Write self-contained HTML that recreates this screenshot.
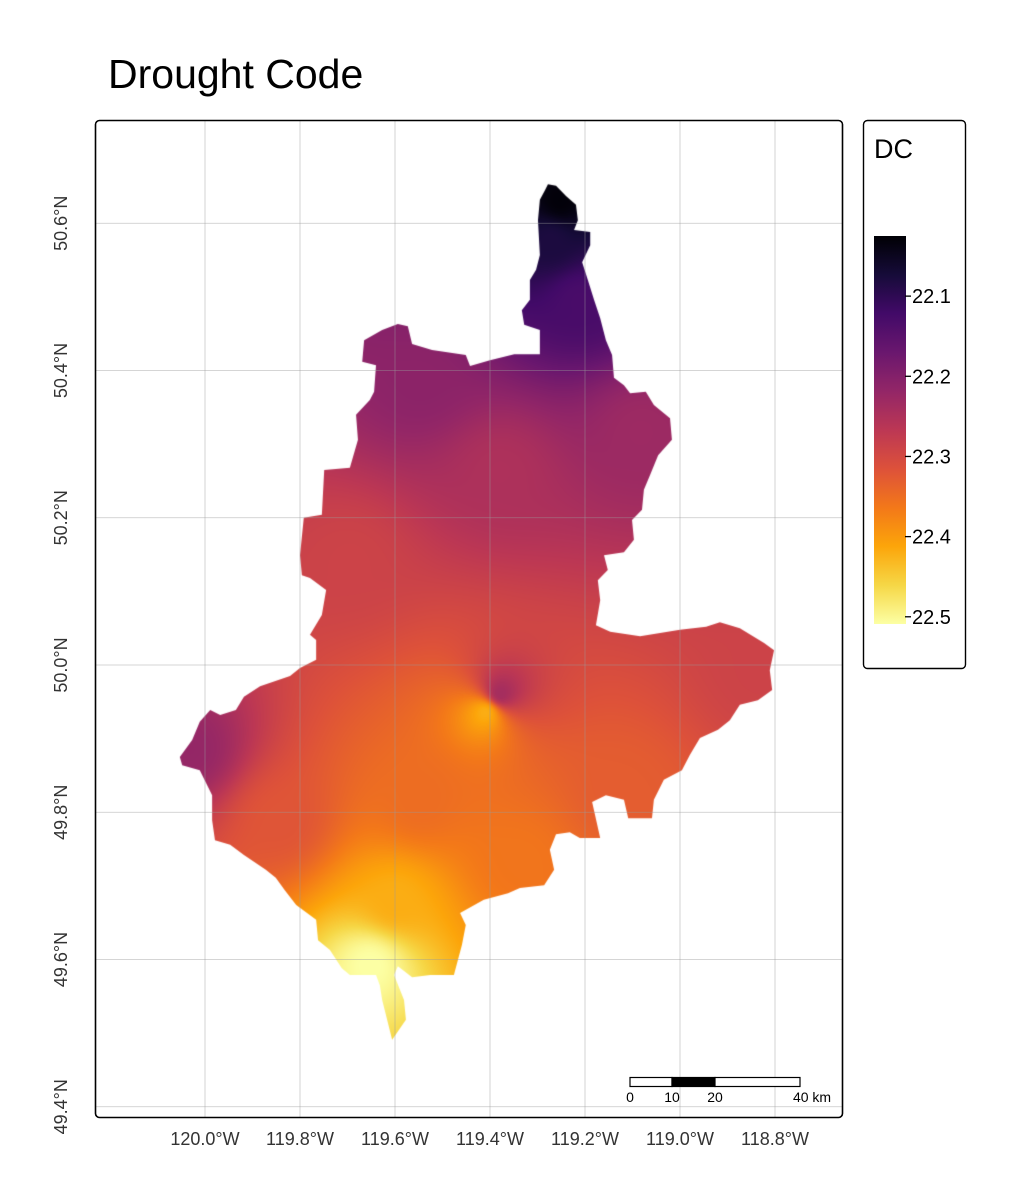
<!DOCTYPE html>
<html><head><meta charset="utf-8">
<style>
html,body{margin:0;padding:0;background:#fff;}
body{width:1030px;height:1192px;position:relative;overflow:hidden;font-family:"Liberation Sans",Arial,sans-serif;}
#map{position:absolute;left:0;top:0;}
svg{position:absolute;left:0;top:0;}
</style></head>
<body>
<svg width="1030" height="1192">
  <text x="108" y="88" font-size="41" fill="#000">Drought Code</text>
  <g id="xticks"></g>
  <g id="yticks"></g>
</svg>
<canvas id="map" width="1030" height="1192"></canvas>
<svg width="1030" height="1192">
  <g id="grid"></g>
  <rect x="95.5" y="120.5" width="747" height="997" rx="4" fill="none" stroke="#000" stroke-width="1.6"/>
  <g>
    <rect x="630" y="1077.5" width="42" height="9" fill="#fff" stroke="#000" stroke-width="1.2"/>
    <rect x="672" y="1077.5" width="43" height="9" fill="#000" stroke="#000" stroke-width="1.2"/>
    <rect x="715" y="1077.5" width="85" height="9" fill="#fff" stroke="#000" stroke-width="1.2"/>
    <g font-size="14" fill="#000" text-anchor="middle">
      <text x="630" y="1102">0</text><text x="672" y="1102">10</text><text x="715" y="1102">20</text>
      <text x="812" y="1102">40 km</text>
    </g>
  </g>
  <g>
    <rect x="863.5" y="120.5" width="102" height="548" rx="4" fill="#fff" stroke="#000" stroke-width="1.4"/>
    <text x="874" y="158" font-size="27" fill="#000">DC</text>
    <defs><linearGradient id="cb" x1="0" y1="0" x2="0" y2="1"></linearGradient></defs>
    <rect x="874" y="236" width="32" height="388" fill="url(#cb)"/>
    <g id="cbticks"></g>
  </g>
</svg>
<script>
const lonTicks = [-120.0,-119.8,-119.6,-119.4,-119.2,-119.0,-118.8];
const latTicks = [49.4,49.6,49.8,50.0,50.2,50.4,50.6];
const legendTicks = [22.1,22.2,22.3,22.4,22.5];
const boundaryLon = [-119.278,-119.261,-119.240,-119.219,-119.215,-119.223,-119.189,-119.189,-119.206,-119.194,-119.181,-119.168,-119.156,-119.143,-119.139,-119.118,-119.105,-119.072,-119.055,-119.021,-119.017,-119.046,-119.063,-119.076,-119.080,-119.101,-119.097,-119.118,-119.160,-119.152,-119.173,-119.168,-119.177,-119.147,-119.084,-119.000,-118.945,-118.916,-118.874,-118.823,-118.802,-118.811,-118.806,-118.836,-118.874,-118.895,-118.920,-118.958,-118.979,-118.996,-119.034,-119.055,-119.059,-119.109,-119.118,-119.156,-119.185,-119.168,-119.211,-119.232,-119.261,-119.274,-119.265,-119.286,-119.337,-119.362,-119.413,-119.463,-119.451,-119.459,-119.476,-119.526,-119.564,-119.594,-119.602,-119.581,-119.577,-119.606,-119.627,-119.632,-119.640,-119.695,-119.712,-119.737,-119.762,-119.766,-119.808,-119.832,-119.851,-119.872,-119.918,-119.947,-119.979,-119.985,-119.985,-120.011,-120.048,-120.053,-120.027,-120.011,-119.989,-119.968,-119.935,-119.918,-119.884,-119.821,-119.800,-119.766,-119.766,-119.779,-119.754,-119.745,-119.779,-119.796,-119.800,-119.792,-119.754,-119.749,-119.695,-119.678,-119.682,-119.653,-119.644,-119.640,-119.669,-119.665,-119.627,-119.594,-119.573,-119.564,-119.522,-119.451,-119.442,-119.400,-119.349,-119.295,-119.295,-119.328,-119.333,-119.316,-119.316,-119.303,-119.295,-119.299,-119.295,-119.284];
const boundaryLat = [50.653,50.651,50.637,50.625,50.604,50.591,50.588,50.570,50.547,50.523,50.496,50.471,50.441,50.421,50.390,50.380,50.369,50.371,50.353,50.335,50.306,50.285,50.258,50.238,50.211,50.197,50.170,50.153,50.149,50.129,50.115,50.088,50.054,50.045,50.039,50.048,50.052,50.058,50.050,50.030,50.020,49.993,49.966,49.952,49.946,49.925,49.912,49.901,49.878,49.857,49.844,49.817,49.792,49.792,49.817,49.823,49.814,49.765,49.765,49.773,49.770,49.749,49.722,49.701,49.697,49.690,49.681,49.663,49.647,49.620,49.579,49.579,49.576,49.591,49.579,49.545,49.518,49.491,49.545,49.565,49.579,49.579,49.588,49.613,49.626,49.654,49.674,49.694,49.711,49.722,49.742,49.756,49.762,49.789,49.823,49.857,49.864,49.875,49.898,49.923,49.939,49.932,49.939,49.957,49.971,49.985,49.996,50.007,50.034,50.041,50.068,50.102,50.118,50.122,50.149,50.200,50.204,50.265,50.268,50.306,50.340,50.360,50.371,50.407,50.412,50.441,50.455,50.463,50.460,50.436,50.428,50.421,50.406,50.414,50.422,50.422,50.455,50.462,50.482,50.496,50.523,50.537,50.557,50.604,50.632,50.645];
const stationLon = [-119.253,-119.274,-119.211,-119.547,-119.084,-120.032,-119.379,-119.411,-119.653,-118.832,-119.695,-119.126,-119.379,-119.842,-119.547,-119.337,-119.600];
const stationLat = [50.632,50.577,50.496,50.387,50.319,49.885,49.962,49.936,49.593,49.993,50.143,49.830,50.265,49.789,49.817,49.735,49.680];
const stationDC  = [22.03,22.08,22.13,22.21,22.23,22.22,22.24,22.42,22.51,22.29,22.29,22.33,22.25,22.32,22.35,22.36,22.42];

const X = lon => 205 + (lon + 120) * 475;
const Y = lat => 665 - (lat - 50) * 736.25;
const vmin = 22.025, vmax = 22.509;
const cbTop = 236, cbBot = 624;
const cbY = v => cbTop + (v - vmin) / (vmax - vmin) * (cbBot - cbTop);

const inferno = ["#000004","#160b39","#420a68","#6a176e","#932667","#bc3754","#dd513a","#f37819","#fca50a","#f6d746","#fcffa4"];
const infRGB = inferno.map(h => [parseInt(h.slice(1,3),16),parseInt(h.slice(3,5),16),parseInt(h.slice(5,7),16)]);
function cmap(t){
  t = Math.max(0, Math.min(1, t)) * 10;
  const i = Math.min(9, Math.floor(t)), f = t - i;
  const a = infRGB[i], b = infRGB[i+1];
  return [a[0]+(b[0]-a[0])*f, a[1]+(b[1]-a[1])*f, a[2]+(b[2]-a[2])*f];
}
const NS = "http://www.w3.org/2000/svg";
function mk(tag, attrs, parent){ const e = document.createElementNS(NS, tag); for (const k in attrs) e.setAttribute(k, attrs[k]); parent.appendChild(e); return e; }

const grid = document.getElementById('grid');
const xt = document.getElementById('xticks'), yt = document.getElementById('yticks');
lonTicks.forEach(l => {
  const x = X(l);
  const ln = mk('line', {x1:x, x2:x, y1:121, y2:1117, stroke:'#9a9a9a', 'stroke-opacity':0.55, 'stroke-width':0.8}, grid);
  
  
  const t = mk('text', {x:x, y:1145, 'font-size':18, fill:'#333', 'text-anchor':'middle'}, xt);
  t.textContent = Math.abs(l).toFixed(1) + '°W';
  
  
});
latTicks.forEach(l => {
  const y = Y(l);
  const ln = mk('line', {x1:96, x2:842, y1:y, y2:y, stroke:'#9a9a9a', 'stroke-opacity':0.55, 'stroke-width':0.8}, grid);
  
  
  const t = mk('text', {x:0, y:0, 'font-size':18, fill:'#333', 'text-anchor':'middle', transform:`translate(67,${y}) rotate(-90)`}, yt);
  t.textContent = l.toFixed(1) + '°N';
  
  
});

const grad = document.getElementById('cb');
inferno.forEach((c, i) => mk('stop', {offset: (i*10)+'%', 'stop-color': c}, grad));
const cbt = document.getElementById('cbticks');
legendTicks.forEach(v => {
  const y = cbY(v);
  mk('line', {x1:905, x2:911, y1:y, y2:y, stroke:'#000', 'stroke-width':1.3}, cbt);
  const t = mk('text', {x:912, y:y+7, 'font-size':20, fill:'#000'}, cbt);
  t.textContent = v.toFixed(1);
  
  
});

const cv = document.getElementById('map'), ctx = cv.getContext('2d');
const sx = stationLon.map(X), sy = stationLat.map(Y);
const x0 = 175, x1 = 780, y0 = 180, y1 = 1045;
const img = ctx.createImageData(x1 - x0, y1 - y0);
for (let py = y0; py < y1; py++) {
  for (let px = x0; px < x1; px++) {
    let ws = 0, vs = 0, exact = -1;
    for (let k = 0; k < sx.length; k++) {
      const dx = px - sx[k], dy = py - sy[k];
      const d2 = dx*dx + dy*dy;
      if (d2 < 0.5) { exact = k; break; }
      const w = 1 / Math.pow(d2, 1.3);
      ws += w; vs += w * stationDC[k];
    }
    const v = exact >= 0 ? stationDC[exact] : vs / ws;
    const c = cmap((v - vmin) / (vmax - vmin));
    const o = ((py - y0) * (x1 - x0) + (px - x0)) * 4;
    img.data[o] = c[0]; img.data[o+1] = c[1]; img.data[o+2] = c[2]; img.data[o+3] = 255;
  }
}
ctx.putImageData(img, x0, y0);
ctx.globalCompositeOperation = 'destination-in';
ctx.beginPath();
boundaryLon.forEach((l, i) => { const x = X(l), y = Y(boundaryLat[i]); i ? ctx.lineTo(x, y) : ctx.moveTo(x, y); });
ctx.closePath();
ctx.fill();
ctx.globalCompositeOperation = 'source-over';
</script>
</body></html>
